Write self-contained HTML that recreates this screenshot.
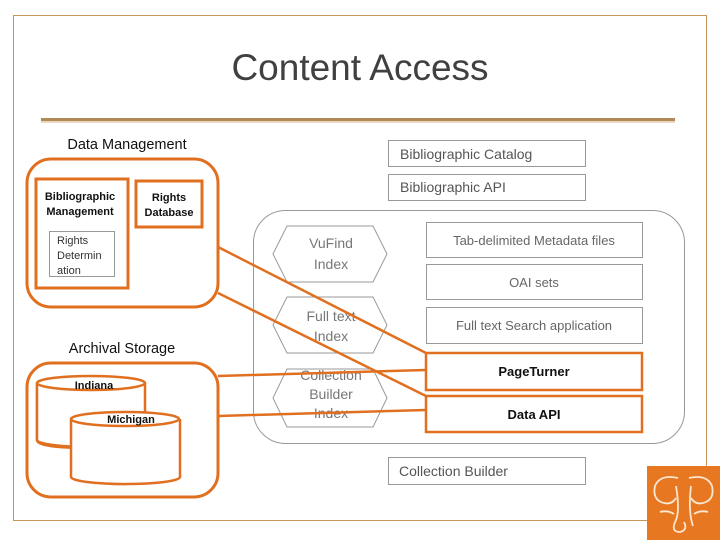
<!DOCTYPE html>
<html><head><meta charset="utf-8"><style>
html,body{margin:0;padding:0;background:#fff;}
svg{display:block;font-family:"Liberation Sans",sans-serif;}
</style></head><body>
<svg width="720" height="540" viewBox="0 0 720 540" xmlns="http://www.w3.org/2000/svg">
<rect x="13.5" y="15.5" width="693" height="505" fill="none" stroke="#c8965a" stroke-width="1"/>
<text x="360" y="80" text-anchor="middle" font-size="37" fill="#404040">Content Access</text>
<rect x="41" y="118" width="634" height="3" fill="#b08a55"/>
<rect x="41" y="121" width="634" height="2" fill="#e8d8c0"/>

<text x="127" y="149" text-anchor="middle" font-size="14.5" fill="#111">Data Management</text>
<rect x="27" y="159" width="191" height="148" rx="24" fill="none" stroke="#e07020" stroke-width="3"/>
<rect x="36" y="179" width="92" height="109" fill="none" stroke="#e07020" stroke-width="3"/>
<text x="80" y="200" text-anchor="middle" font-size="11" font-weight="bold" fill="#111">Bibliographic</text>
<text x="80" y="215" text-anchor="middle" font-size="11" font-weight="bold" fill="#111">Management</text>
<rect x="136" y="181" width="66" height="46" fill="none" stroke="#e07020" stroke-width="3"/>
<text x="169" y="201" text-anchor="middle" font-size="11" font-weight="bold" fill="#111">Rights</text>
<text x="169" y="216" text-anchor="middle" font-size="11" font-weight="bold" fill="#111">Database</text>
<rect x="49.5" y="231.5" width="65" height="45" fill="#fff" stroke="#999" stroke-width="1"/>
<text x="57" y="244" font-size="11" fill="#333">Rights</text>
<text x="57" y="259" font-size="11" fill="#333">Determin</text>
<text x="57" y="274" font-size="11" fill="#333">ation</text>

<text x="122" y="353" text-anchor="middle" font-size="14.5" fill="#111">Archival Storage</text>
<rect x="27" y="363" width="191" height="134" rx="24" fill="none" stroke="#e07020" stroke-width="3"/>
<path d="M37 383 V440 Q37 448 91 448 L70 448" fill="#fff" stroke="#e07020" stroke-width="2.5"/>
<path d="M37 383 V440 A54 7 0 0 0 145 440 V383" fill="#fff" stroke="#e07020" stroke-width="2.5"/>
<ellipse cx="91" cy="383" rx="54" ry="7" fill="#fff" stroke="#e07020" stroke-width="2.5"/>
<text x="94" y="389" text-anchor="middle" font-size="11" font-weight="bold" fill="#111">Indiana</text>
<path d="M71 419 V477 A54 7 0 0 0 180 477 V419" fill="#fff" stroke="#e07020" stroke-width="2.5"/>
<ellipse cx="125" cy="419" rx="54" ry="7" fill="#fff" stroke="#e07020" stroke-width="2.5"/>
<text x="131" y="423" text-anchor="middle" font-size="11" font-weight="bold" fill="#111">Michigan</text>

<rect x="388.5" y="140.5" width="197" height="26" fill="#fff" stroke="#999"/>
<text x="400" y="159" font-size="14" fill="#555">Bibliographic Catalog</text>
<rect x="388.5" y="174.5" width="197" height="26" fill="#fff" stroke="#999"/>
<text x="400" y="192" font-size="14" fill="#555">Bibliographic API</text>
<rect x="388.5" y="457.5" width="197" height="27" fill="#fff" stroke="#999"/>
<text x="399" y="476" font-size="14" fill="#555">Collection Builder</text>

<rect x="253.5" y="210.5" width="431" height="233" rx="32" fill="none" stroke="#999"/>
<g fill="#fff" stroke="#999">
<polygon points="287,226 373,226 387,254 373,282 287,282 273,254"/>
<polygon points="287,297 373,297 387,325 373,353 287,353 273,325"/>
<polygon points="287,369 373,369 387,398 373,427 287,427 273,398"/>
</g>
<g font-size="14" fill="#777" text-anchor="middle">
<text x="331" y="248">VuFind</text><text x="331" y="269">Index</text>
<text x="331" y="321">Full text</text><text x="331" y="341">Index</text>
<text x="331" y="380">Collection</text><text x="331" y="399">Builder</text><text x="331" y="418">Index</text>
</g>
<g fill="#fff" stroke="#999">
<rect x="426.5" y="222.5" width="216" height="35"/>
<rect x="426.5" y="264.5" width="216" height="35"/>
<rect x="426.5" y="307.5" width="216" height="36"/>
</g>
<g font-size="13" fill="#666" text-anchor="middle">
<text x="534" y="245">Tab-delimited Metadata files</text>
<text x="534" y="287">OAI sets</text>
<text x="534" y="330">Full text Search application</text>
</g>
<rect x="426" y="353" width="216" height="37" fill="#fff" stroke="#e07020" stroke-width="2.5"/>
<rect x="426" y="396" width="216" height="36" fill="#fff" stroke="#e07020" stroke-width="2.5"/>
<text x="534" y="376" text-anchor="middle" font-size="13" font-weight="bold" fill="#111">PageTurner</text>
<text x="534" y="419" text-anchor="middle" font-size="13" font-weight="bold" fill="#111">Data API</text>

<g stroke="#e07020" stroke-width="2.5">
<line x1="218" y1="247" x2="426" y2="353"/>
<line x1="218" y1="293" x2="426" y2="396"/>
<line x1="218" y1="376" x2="426" y2="370"/>
<line x1="218" y1="416" x2="426" y2="410"/>
</g>

<rect x="647" y="466" width="73" height="74" fill="#e87722"/>
<g fill="none" stroke="#fbe6d0" stroke-width="1.8">
<path d="M678 478 Q660 474 655 486 Q652 500 664 503 Q672 505 676 498"/>
<path d="M689 478 Q707 474 712 486 Q715 500 703 503 Q695 505 691 498"/>
<path d="M676 486 Q680 510 676 520 Q670 532 680 532 Q688 530 684 522"/>
<path d="M691 486 Q688 512 693 526"/>
<path d="M660 512 Q668 510 674 514 M708 512 Q700 510 694 514"/>
</g>
</svg>
</body></html>
